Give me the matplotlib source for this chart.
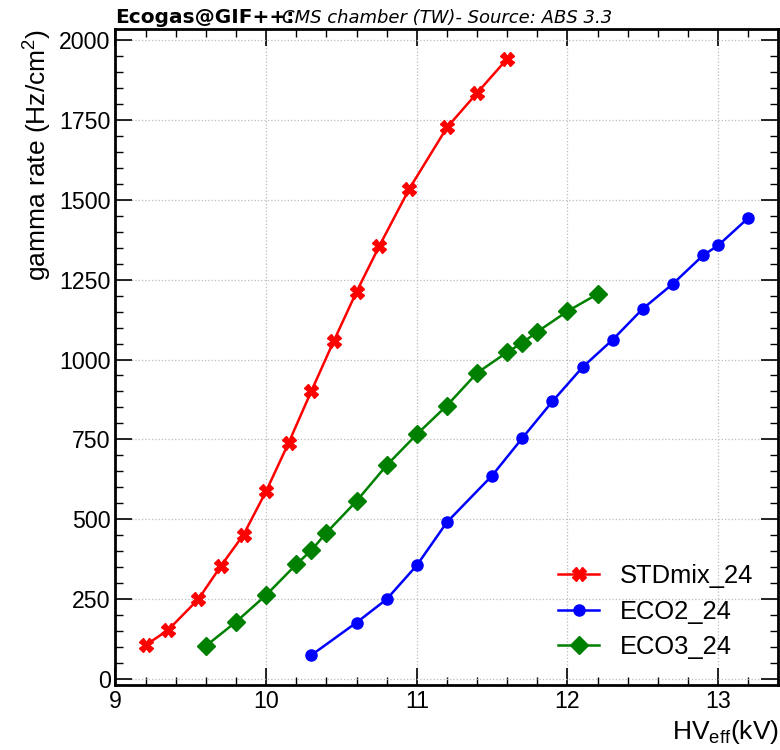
import matplotlib
matplotlib.use("Agg")
import matplotlib.pyplot as plt
from matplotlib.ticker import MultipleLocator

# HV_eff (kV) and gamma rate (Hz/cm^2) for each gas mixture
std_hv = [9.2, 9.35, 9.55, 9.7, 9.85, 10.0, 10.15, 10.3, 10.45, 10.6, 10.75, 10.95, 11.2, 11.4, 11.6]
std_rate = [106, 154, 250, 354, 452, 588, 740, 901, 1059, 1212, 1354, 1534, 1726, 1834, 1941]

eco2_hv = [10.3, 10.6, 10.8, 11.0, 11.2, 11.5, 11.7, 11.9, 12.1, 12.3, 12.5, 12.7, 12.9, 13.0, 13.2]
eco2_rate = [75, 177, 250, 356, 491, 637, 754, 869, 976, 1062, 1159, 1237, 1326, 1357, 1443]

eco3_hv = [9.6, 9.8, 10.0, 10.2, 10.3, 10.4, 10.6, 10.8, 11.0, 11.2, 11.4, 11.6, 11.7, 11.8, 12.0, 12.2]
eco3_rate = [104, 179, 263, 359, 403, 458, 557, 669, 766, 856, 958, 1023, 1052, 1087, 1151, 1205]

labels = ["STDmix_24", "ECO2_24", "ECO3_24"]

plt.rcParams["font.family"] = ["Liberation Sans", "DejaVu Sans"]
plt.rcParams["mathtext.fontset"] = "custom"
plt.rcParams["mathtext.rm"] = "Liberation Sans"
plt.rcParams["mathtext.default"] = "regular"

fig = plt.figure(figsize=(7.8, 7.5), dpi=100)
ax = fig.add_axes([0.148, 0.0867, 0.850, 0.8747])

ax.plot(std_hv, std_rate, color="red", marker="X", markersize=10, lw=1.8, label=labels[0])
ax.plot(eco2_hv, eco2_rate, color="blue", marker="o", markersize=8, lw=1.8, label=labels[1])
ax.plot(eco3_hv, eco3_rate, color="green", marker="D", markersize=9, lw=1.8, label=labels[2])

ax.xaxis.set_major_locator(MultipleLocator(1))
ax.xaxis.set_minor_locator(MultipleLocator(0.2))
ax.yaxis.set_major_locator(MultipleLocator(250))
ax.yaxis.set_minor_locator(MultipleLocator(50))
ax.tick_params(which="both", direction="in", top=True, right=True, labelsize=16.7)
ax.tick_params(which="major", length=12, width=1.2)
ax.tick_params(which="minor", length=6, width=1.0)
for sp in ax.spines.values():
    sp.set_linewidth(2)

ax.grid(True, which="major", linestyle=":", color="#bbbbbb", linewidth=0.9)

ax.set_xlabel("HV$_{eff}$(kV)", fontsize=19, loc="right")
ax.set_ylabel("gamma rate (Hz/cm$^{2}$)", fontsize=19, loc="top")

ax.set_title("Ecogas@GIF++:", loc="left", fontsize=14.5, fontweight="bold",
             family="DejaVu Sans", pad=4)
ax.set_title("CMS chamber (TW)- Source: ABS 3.3", loc="center", fontsize=13,
             style="italic", family="DejaVu Sans", pad=4)

ax.legend(loc="lower right", frameon=False, fontsize=18.4, borderaxespad=0.6,
          handlelength=1.6, labelspacing=0.45, handletextpad=0.8)

fig.savefig("out.png", dpi=100)
